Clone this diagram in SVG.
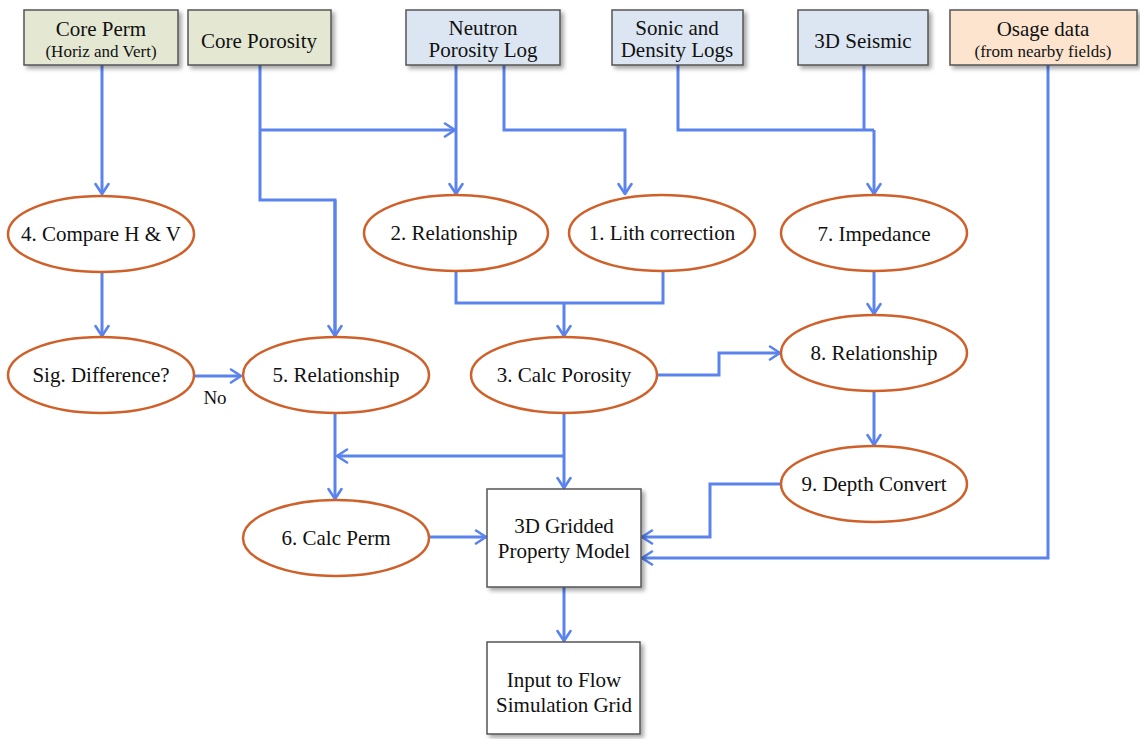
<svg xmlns="http://www.w3.org/2000/svg" width="1140" height="739" viewBox="0 0 1140 739" font-family="'Liberation Serif', 'Times New Roman', 'DejaVu Serif', serif">
  <defs>
    <filter id="shadow" x="-10%" y="-10%" width="125%" height="130%">
      <feDropShadow dx="3" dy="3" stdDeviation="2" flood-color="#000" flood-opacity="0.35"/>
    </filter>
    <marker id="arrow" viewBox="0 0 14 16" refX="12" refY="8" markerWidth="14" markerHeight="16" orient="auto" markerUnits="userSpaceOnUse">
      <path d="M2,1.5 L12,8 L2,14.5" fill="none" stroke="#5a83ee" stroke-width="2.6" stroke-linecap="round" stroke-linejoin="round"/>
    </marker>
  </defs>
  <style>
    text { font-family: "Liberation Serif", "Times New Roman", "DejaVu Serif", serif; fill: #111; text-anchor: middle; }
    .lbl { font-size: 21px; }
    .sub { font-size: 17px; }
    .box { stroke: #555; stroke-width: 1.5; }
    .green { fill: #e4e8d3; }
    .blue { fill: #dce6f2; }
    .orange { fill: #fce4cf; }
    .white { fill: #fff; }
    .proc { fill: #fff; stroke: #d0602a; stroke-width: 2.5; }
    .conn { fill: none; stroke: #5a83ee; stroke-width: 3; stroke-linejoin: miter; }
    .arr { marker-end: url(#arrow); }
  </style>
  <rect width="1140" height="739" fill="#fff"/>

  <!-- connectors -->
  <g id="connectors">
    <path class="conn arr" d="M102,65 V194"/>
    <path class="conn" d="M260,65 V200 H335 V336"/>
    <path class="conn arr" d="M335,200 V336"/>
    <path class="conn arr" d="M260,130 H455"/>
    <path class="conn arr" d="M456,65 V194"/>
    <path class="conn arr" d="M504,65 V130 H625 V194"/>
    <path class="conn" d="M678,65 V130 H874"/>
    <path class="conn" d="M864,65 V130"/>
    <path class="conn arr" d="M874,130 V194"/>
    <path class="conn arr" d="M102,272 V336"/>
    <path class="conn arr" d="M193,376 H241"/>
    <path class="conn" d="M456,272 V303 H663 V271"/>
    <path class="conn arr" d="M564,303 V336"/>
    <path class="conn arr" d="M874,271 V314"/>
    <path class="conn arr" d="M657,375 H719 V353 H780"/>
    <path class="conn arr" d="M874,392 V445"/>
    <path class="conn arr" d="M335,413 V499"/>
    <path class="conn arr" d="M564,413 V488"/>
    <path class="conn arr" d="M564,456 H337"/>
    <path class="conn arr" d="M428,537 H486"/>
    <path class="conn arr" d="M780,484 H710 V537 H642"/>
    <path class="conn arr" d="M1048,65 V558 H642"/>
    <path class="conn arr" d="M564,587 V641"/>
    <text x="215" y="404" class="lbl" style="font-size:19px">No</text>
  </g>

  <!-- data sources -->
  <g id="core-perm">
    <rect x="24" y="10" width="154" height="55" class="box green" filter="url(#shadow)"/>
    <text x="101" y="36" class="lbl">Core Perm</text>
    <text x="101" y="57" class="sub">(Horiz and Vert)</text>
  </g>
  <g id="core-porosity">
    <rect x="188" y="10" width="143" height="55" class="box green" filter="url(#shadow)"/>
    <text x="259" y="48" class="lbl">Core Porosity</text>
  </g>
  <g id="neutron-log">
    <rect x="406" y="10" width="154" height="55" class="box blue" filter="url(#shadow)"/>
    <text x="483" y="35" class="lbl">Neutron</text>
    <text x="483" y="57" class="lbl">Porosity Log</text>
  </g>
  <g id="sonic-density">
    <rect x="612" y="10" width="131" height="55" class="box blue" filter="url(#shadow)"/>
    <text x="677" y="35" class="lbl">Sonic and</text>
    <text x="677" y="57" class="lbl">Density Logs</text>
  </g>
  <g id="seismic">
    <rect x="798" y="10" width="130" height="55" class="box blue" filter="url(#shadow)"/>
    <text x="863" y="48" class="lbl">3D Seismic</text>
  </g>
  <g id="osage">
    <rect x="950" y="10" width="187" height="55" class="box orange" filter="url(#shadow)"/>
    <text x="1043" y="36" class="lbl">Osage data</text>
    <text x="1043" y="57" class="sub">(from nearby fields)</text>
  </g>

  <!-- processing steps -->
  <g id="step4">
    <ellipse cx="101" cy="234" rx="93" ry="38" class="proc"/>
    <text x="101" y="241" class="lbl">4. Compare H &amp; V</text>
  </g>
  <g id="sig-diff">
    <ellipse cx="101" cy="375" rx="93" ry="38" class="proc"/>
    <text x="101" y="382" class="lbl">Sig. Difference?</text>
  </g>
  <g id="step2">
    <ellipse cx="456" cy="233" rx="92" ry="38" class="proc"/>
    <text x="454" y="240" class="lbl">2. Relationship</text>
  </g>
  <g id="step1">
    <ellipse cx="662" cy="233" rx="93" ry="38" class="proc"/>
    <text x="662" y="240" class="lbl">1. Lith correction</text>
  </g>
  <g id="step7">
    <ellipse cx="874" cy="233" rx="93" ry="38" class="proc"/>
    <text x="874" y="241" class="lbl">7. Impedance</text>
  </g>
  <g id="step5">
    <ellipse cx="336" cy="375" rx="93" ry="38" class="proc"/>
    <text x="336" y="382" class="lbl">5. Relationship</text>
  </g>
  <g id="step3">
    <ellipse cx="564" cy="375" rx="93" ry="38" class="proc"/>
    <text x="564" y="382" class="lbl">3. Calc Porosity</text>
  </g>
  <g id="step8">
    <ellipse cx="874" cy="353" rx="93" ry="38" class="proc"/>
    <text x="874" y="360" class="lbl">8. Relationship</text>
  </g>
  <g id="step9">
    <ellipse cx="874" cy="484" rx="93" ry="38" class="proc"/>
    <text x="874" y="491" class="lbl">9. Depth Convert</text>
  </g>
  <g id="step6">
    <ellipse cx="336" cy="538" rx="93" ry="38" class="proc"/>
    <text x="336" y="545" class="lbl">6. Calc Perm</text>
  </g>

  <!-- outputs -->
  <g id="property-model">
    <rect x="487" y="489" width="154" height="98" class="box white" filter="url(#shadow)"/>
    <text x="564" y="533" class="lbl">3D Gridded</text>
    <text x="564" y="558" class="lbl">Property Model</text>
  </g>
  <g id="flow-input">
    <rect x="487" y="642" width="153" height="92" class="box white" filter="url(#shadow)"/>
    <text x="564" y="687" class="lbl">Input to Flow</text>
    <text x="564" y="712" class="lbl">Simulation Grid</text>
  </g>
</svg>
